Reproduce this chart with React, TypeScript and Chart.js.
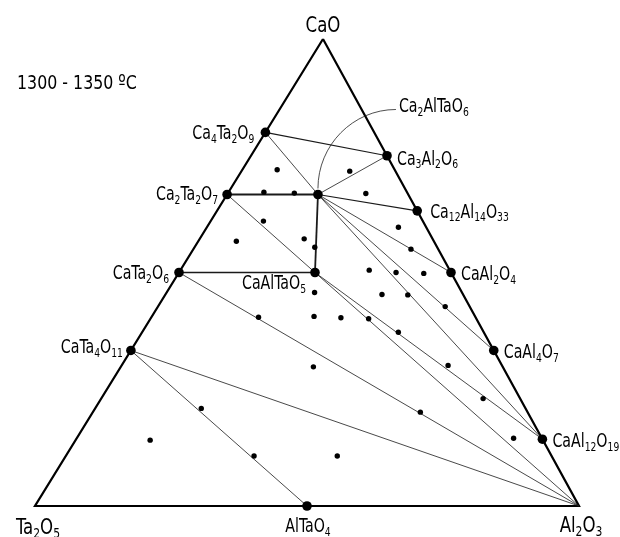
import React, { useEffect, useRef } from 'react';
import { Chart, registerables } from 'chart.js';

Chart.register(...registerables);

// ---- Data (mol % CaO, mol % Al2O3; remainder Ta2O5) ----
const vertexNames = ['CaO', 'Ta2O5', 'Al2O3'];
const vertexCaO = [100, 0, 0];
const vertexAl2O3 = [0, 0, 100];

const phaseNames = [
  'Ca4Ta2O9', 'Ca2Ta2O7', 'CaTa2O6', 'CaTa4O11', 'Ca3Al2O6', 'Ca12Al14O33',
  'CaAl2O4', 'CaAl4O7', 'CaAl12O19', 'AlTaO4', 'Ca2AlTaO6', 'CaAlTaO5',
];
const phaseCaO = [80, 66.7, 50, 33.3, 75, 63.2, 50, 33.3, 14.3, 0, 66.7, 50];
const phaseAl2O3 = [0, 0, 0, 0, 25, 36.8, 50, 66.7, 85.7, 50, 16.7, 25];

const sampleCaO = [
  72.0, 67.2, 67.0, 71.7, 66.9, 61.0, 56.7, 57.2, 55.4, 59.7, 55.0, 50.5, 50.0, 49.8, 45.7, 45.3,
  45.2, 42.7, 40.4, 40.6, 40.3, 40.1, 37.2, 29.8, 30.1, 23.0, 20.1, 14.5, 14.1, 20.9, 10.7, 10.7,
];
const sampleAl2O3 = [
  6.4, 6.5, 12.2, 19.9, 25.4, 9.7, 7.0, 19.2, 22.1, 35.2, 40.0, 34.7, 39.9, 45.1, 27.2, 39.8,
  44.6, 52.8, 19.7, 29.8, 34.9, 40.1, 47.1, 35.4, 60.0, 70.2, 60.2, 80.3, 13.7, 19.5, 34.6, 49.9,
];

const tieFrom = [
  'Ca2Ta2O7', 'Ca2AlTaO6', 'CaTa2O6', 'Ca4Ta2O9', 'Ca2AlTaO6', 'Ca4Ta2O9', 'Ca3Al2O6',
  'Ca2AlTaO6', 'Ca2AlTaO6', 'Ca2AlTaO6', 'Ca2Ta2O7', 'CaAlTaO5', 'CaAlTaO5', 'CaTa2O6',
  'CaTa4O11', 'CaTa4O11',
];
const tieTo = [
  'Ca2AlTaO6', 'CaAlTaO5', 'CaAlTaO5', 'Ca3Al2O6', 'Ca12Al14O33', 'Ca2AlTaO6', 'Ca2AlTaO6',
  'CaAl2O4', 'CaAl4O7', 'CaAl12O19', 'CaAlTaO5', 'CaAl12O19', 'Al2O3', 'Al2O3',
  'Al2O3', 'AlTaO4',
];

const temperatureLabel = '1300 - 1350 ºC';

// ---- Styles / geometry ----
const tieWidths = [1.8, 1.8, 1.3, 1.1, 1.1, 0.8, 0.8, 0.8, 0.8, 0.8, 0.8, 0.8, 0.8, 0.8, 0.8, 0.8];
const APEX_X = 52.94; // apex horizontal offset (base = 100)
const APEX_H = 85.85; // apex height
const X_MIN = -6.434, X_MAX = 107.537, Y_MIN = -5.699, Y_MAX = 93.015;
const FONT = "'DejaVu Sans Condensed', 'DejaVu Sans', sans-serif";

type Align = 'left' | 'right' | 'center';
const V = 20.5, P = 19, VS = 0.9, PS = 0.83;
const labelStyle: Record<string, { dx: number; dy: number; align: Align; size: number; sq: number }> = {
  CaO: { dx: 0, dy: -14, align: 'center', size: V, sq: VS },
  Ta2O5: { dx: 3, dy: 21, align: 'center', size: V, sq: VS },
  Al2O3: { dx: 2, dy: 19, align: 'center', size: V, sq: VS },
  AlTaO4: { dx: 1, dy: 19, align: 'center', size: P, sq: PS },
  Ca4Ta2O9: { dx: -11, dy: 0, align: 'right', size: P, sq: PS },
  Ca2Ta2O7: { dx: -9, dy: -1, align: 'right', size: P, sq: PS },
  CaTa2O6: { dx: -10, dy: 0, align: 'right', size: P, sq: PS },
  CaTa4O11: { dx: -8, dy: -4, align: 'right', size: P, sq: PS },
  Ca3Al2O6: { dx: 10, dy: 2, align: 'left', size: P, sq: PS },
  Ca12Al14O33: { dx: 13, dy: 0, align: 'left', size: P, sq: PS },
  CaAl2O4: { dx: 10, dy: 1, align: 'left', size: P, sq: PS },
  CaAl4O7: { dx: 10, dy: 1, align: 'left', size: P, sq: PS },
  CaAl12O19: { dx: 10, dy: 1, align: 'left', size: P, sq: PS },
  CaAlTaO5: { dx: -9, dy: 10, align: 'right', size: P, sq: PS },
  Ca2AlTaO6: { dx: 81, dy: -89, align: 'left', size: P, sq: PS },
};

function toXY(c: number, a: number) {
  return { x: a + (c * APEX_X) / 100, y: (c * APEX_H) / 100 };
}

function comp(name: string): [number, number] {
  const vi = vertexNames.indexOf(name);
  if (vi >= 0) return [vertexCaO[vi], vertexAl2O3[vi]];
  const pi = phaseNames.indexOf(name);
  return [phaseCaO[pi], phaseAl2O3[pi]];
}

function pointOf(name: string) {
  const [c, a] = comp(name);
  return toXY(c, a);
}

function drawFormula(
  ctx: CanvasRenderingContext2D, text: string, x: number, y: number,
  align: Align, size: number, sq: number, formula = true,
) {
  const runs = formula ? text.match(/[0-9]+|[^0-9]+/g) || [] : [text];
  const subSize = size * 0.65;
  const mainFont = `${size}px ${FONT}`;
  const subFont = `${subSize}px ${FONT}`;
  const isSub = (r: string) => formula && /^[0-9]+$/.test(r);
  const widths = runs.map((r) => {
    ctx.font = isSub(r) ? subFont : mainFont;
    return ctx.measureText(r).width;
  });
  const total = widths.reduce((s, w) => s + w, 0) * sq;
  const x0 = align === 'left' ? x : align === 'right' ? x - total : x - total / 2;
  const base = y + size * 0.36;
  ctx.save();
  ctx.translate(x0, base);
  ctx.scale(sq, 1);
  ctx.fillStyle = '#000';
  ctx.textAlign = 'left';
  ctx.textBaseline = 'alphabetic';
  let cx = 0;
  runs.forEach((r, i) => {
    ctx.font = isSub(r) ? subFont : mainFont;
    ctx.fillText(r, cx, isSub(r) ? size * 0.2 : 0);
    cx += widths[i];
  });
  ctx.restore();
}

const annotationPlugin = {
  id: 'ternaryAnnotations',
  afterDatasetsDraw(chart: any) {
    const ctx: CanvasRenderingContext2D = chart.ctx;
    const xs = chart.scales.x;
    const ys = chart.scales.y;
    const pix = (name: string) => {
      const p = pointOf(name);
      return [xs.getPixelForValue(p.x), ys.getPixelForValue(p.y)];
    };
    ctx.save();
    // curved leader line for Ca2AlTaO6
    const [lx, ly] = pix('Ca2AlTaO6');
    const st = labelStyle.Ca2AlTaO6;
    const sx = lx + st.dx - 3, sy = ly + st.dy + 4;
    const ex = lx, ey = ly - 6;
    ctx.beginPath();
    ctx.moveTo(sx, sy);
    ctx.bezierCurveTo(sx - 0.55 * (sx - ex), sy, ex, ey - 0.55 * (ey - sy), ex, ey);
    ctx.lineWidth = 0.8;
    ctx.strokeStyle = '#222';
    ctx.stroke();

    [...vertexNames, ...phaseNames].forEach((name) => {
      const s = labelStyle[name];
      if (!s) return;
      const [x, y] = pix(name);
      drawFormula(ctx, name, x + s.dx, y + s.dy, s.align, s.size, s.sq);
    });
    drawFormula(ctx, temperatureLabel, chart.chartArea.left + 17, chart.chartArea.top + 82, 'left', 20, 0.88, false);
    ctx.restore();
  },
};

export default function App() {
  const ref = useRef<HTMLCanvasElement>(null);
  useEffect(() => {
    if (!ref.current) return;
    const edge = [pointOf('CaO'), pointOf('Ta2O5'), pointOf('Al2O3'), pointOf('CaO')];
    const tieSets = tieFrom.map((f, i) => ({
      type: 'scatter' as const,
      data: [pointOf(f), pointOf(tieTo[i])],
      showLine: true,
      borderColor: '#1a1a1a',
      borderWidth: tieWidths[i],
      pointRadius: 0,
      order: 1,
    }));
    const chart = new Chart(ref.current, {
      type: 'scatter',
      data: {
        datasets: [
          {
            data: phaseNames.map((n) => pointOf(n)),
            pointRadius: 4.8,
            backgroundColor: '#000',
            borderWidth: 0,
            order: 0,
          },
          {
            data: sampleCaO.map((c, i) => toXY(c, sampleAl2O3[i])),
            pointRadius: 2.7,
            backgroundColor: '#000',
            borderWidth: 0,
            order: 0,
          },
          ...tieSets,
          {
            data: edge,
            showLine: true,
            borderColor: '#000',
            borderWidth: 2.2,
            borderJoinStyle: 'miter',
            pointRadius: 0,
            order: 2,
          },
        ],
      },
      options: {
        animation: false,
        responsive: true,
        maintainAspectRatio: false,
        events: [],
        layout: { padding: 0, autoPadding: false },
        plugins: { legend: { display: false }, tooltip: { enabled: false } },
        scales: {
          x: { type: 'linear', display: false, min: X_MIN, max: X_MAX },
          y: { type: 'linear', display: false, min: Y_MIN, max: Y_MAX },
        },
      },
      plugins: [annotationPlugin],
    } as any);
    return () => chart.destroy();
  }, []);
  return (
    <div style={{ position: 'absolute', left: 0, top: 0, width: 620, height: 537, background: '#fff' }}>
      <canvas ref={ref} />
    </div>
  );
}
